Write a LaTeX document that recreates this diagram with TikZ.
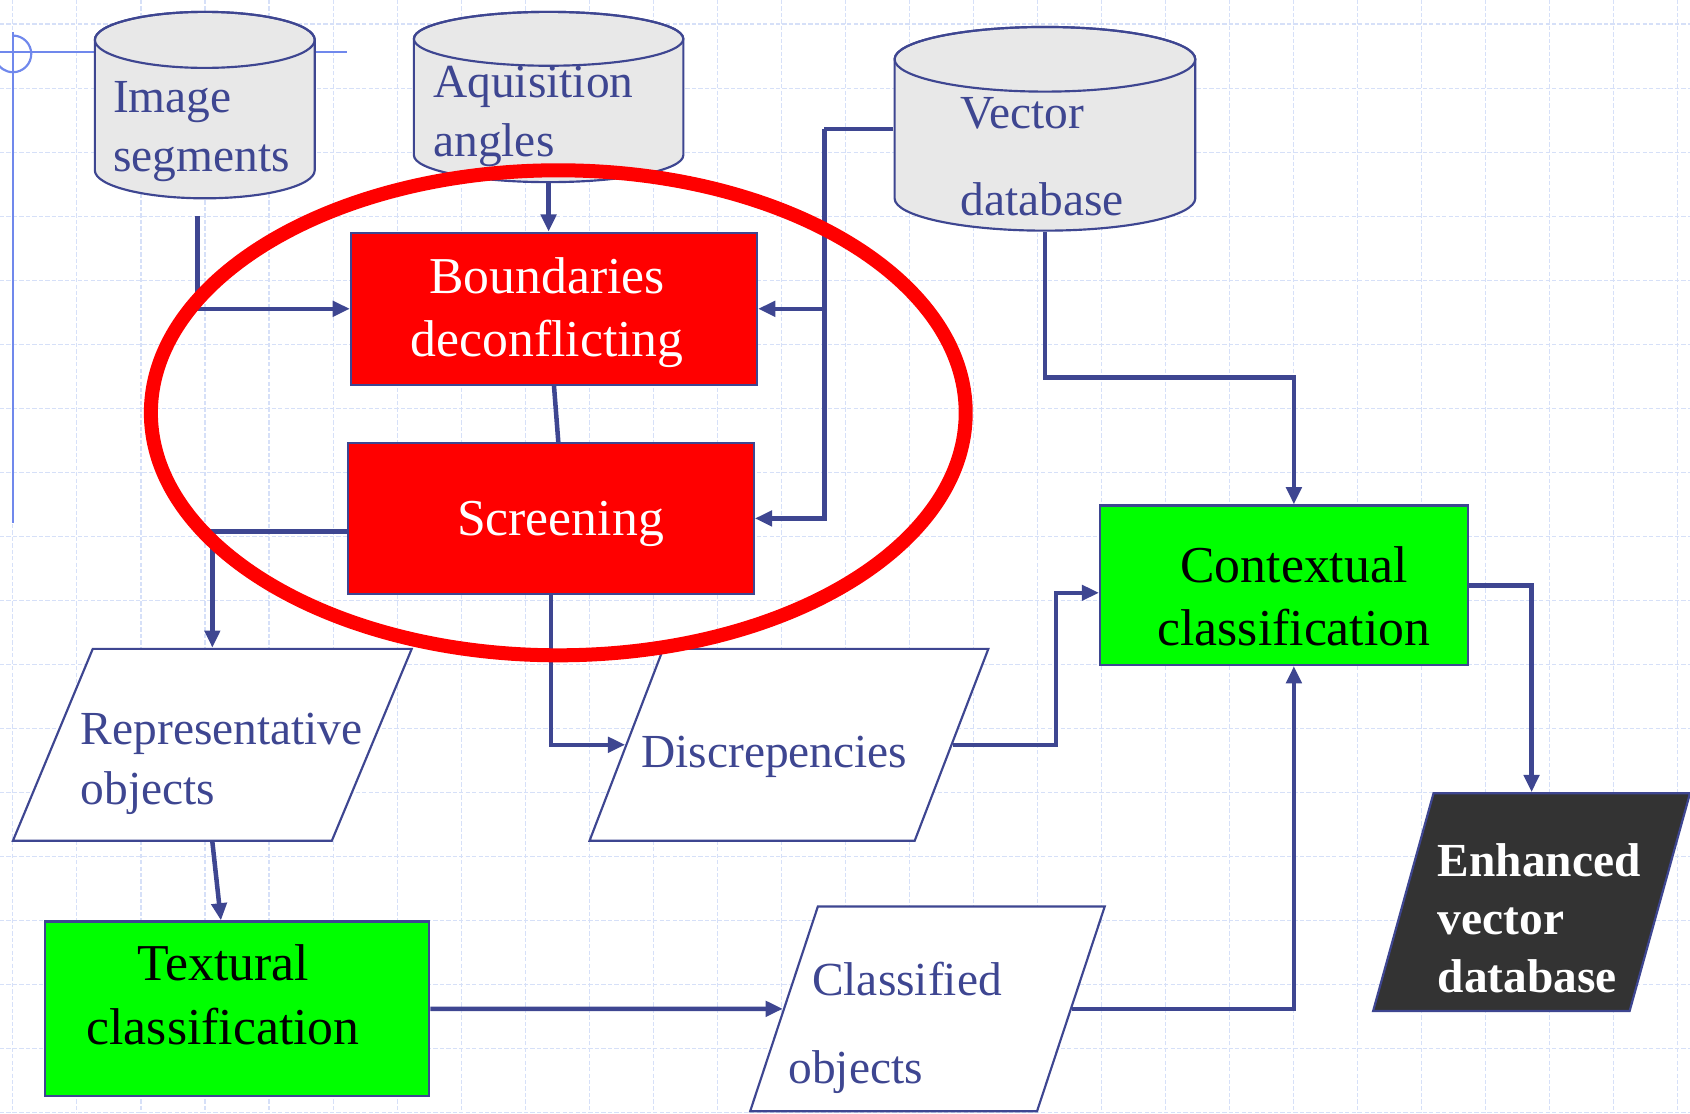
\documentclass[tikz,border=0pt]{standalone}
\usepackage{fontspec}
\setmainfont{Liberation Serif}
\usetikzlibrary{positioning}
\usetikzlibrary{shapes.geometric}
\usetikzlibrary{arrows.meta}

\definecolor{flowblue}{RGB}{62,70,145}
\definecolor{gridblue}{RGB}{214,224,248}
\definecolor{slideblue}{RGB}{112,136,236}
\definecolor{dbgray}{RGB}{232,232,232}
\definecolor{darkbox}{RGB}{51,51,51}

% cylinder outline inside a node: #1 = x radius, #2 = y radius of the ends
\newcommand{\dbcyl}[2]{%
  \filldraw[fill=dbgray, draw=flowblue, line width=2pt]
    ([xshift=1pt, yshift=-#2-1pt]path picture bounding box.north west)
    -- ([xshift=1pt, yshift=#2+1pt]path picture bounding box.south west)
    arc[start angle=180, end angle=360, x radius=#1, y radius=#2]
    -- ([xshift=-1pt, yshift=-#2-1pt]path picture bounding box.north east)
    arc[start angle=0, end angle=180, x radius=#1, y radius=#2] -- cycle;
  \draw[flowblue, line width=2pt] ([yshift=-#2-1pt]path picture bounding box.north) ellipse[x radius=#1, y radius=#2];
}

\begin{document}
\begin{tikzpicture}[
                x=1pt, y=-1pt,
                gridline/.style={draw=gridblue, line width=1pt, dash pattern=on 4pt off 2pt},
                wire/.style={draw=flowblue, line width=4.2pt},
                link/.style={wire, -{Triangle[length=16pt,width=14pt]}},
                database/.style 2 args={rectangle, path picture={\dbcyl{#1}{#2}}, text=flowblue, align=left, inner ysep=0pt, font=\fontsize{44}{55}\selectfont},
                redbox/.style={rectangle, draw=flowblue, line width=2pt, fill=red, text=white, align=center, inner ysep=0pt, font=\fontsize{48}{59}\selectfont},
                greenbox/.style={rectangle, draw=flowblue, line width=2pt, fill=green, text=black, align=center, inner ysep=0pt, font=\fontsize{48}{59}\selectfont},
                databox/.style={trapezium, trapezium stretches body=true, draw=flowblue, line width=2pt, fill=white, text=flowblue, align=left, inner xsep=-40pt, inner ysep=0pt, font=\fontsize{44}{55}\selectfont},
            ]
            \useasboundingbox (0,0) rectangle (1568,1033);

            % Background
            \foreach \gx in {0,...,26}
                \draw[gridline] ({12+59.4*\gx},0) -- ({12+59.4*\gx},1033);
            \foreach \gy in {0,...,17}
                \draw[gridline] (0,{22.3+59.4*\gy}) -- (1568,{22.3+59.4*\gy});
            \draw[slideblue, line width=2pt] (12,30) -- (12,485);
            \draw[slideblue, line width=2pt] (0,48) -- (322,48);
            \draw[slideblue, line width=2pt] (12,33) arc[start angle=90, end angle=-160, radius=17pt];

            % Nodes
            \node[database={102pt}{26pt}, minimum width=206pt, minimum height=175pt, text width=170pt, text height=94pt, text depth=81pt]    (imgseg) at (190,97.5)   {Image\\segments};
            \node[database={125pt}{25pt}, minimum width=252pt, minimum height=160pt, text width=214pt, text height=80pt, text depth=80pt]    (aqang)  at (509,90)     {Aquisition\\angles};
            \node[database={139.5pt}{30pt}, minimum width=281pt, minimum height=191pt, text width=157pt, text height=95pt, text depth=96pt]  (vecdb)  at (969.5,119.5) {Vector\\[26pt]database};

            \node[redbox, minimum width=376pt, minimum height=141pt, text width=370pt, text height=56pt, text depth=85pt]  (bound)  at (514,286.5) {\hspace*{-13pt}Boundaries\\\hspace*{-13pt}deconflicting};
            \node[redbox, minimum width=376pt, minimum height=140pt, text width=370pt, text height=86pt, text depth=54pt]  (screen) [below=52pt of bound, xshift=-3pt] {\hspace*{18pt}Screening};

            \node[greenbox, minimum width=341pt, minimum height=148pt, text width=335pt, text height=71pt, text depth=77pt]   (context)  at (1191.5,543) {\hspace*{18pt}Contextual\\\hspace*{18pt}classification};
            \node[greenbox, minimum width=356pt, minimum height=162pt, text width=350pt, text height=55pt, text depth=107pt]  (textural) at (220,936)    {\hspace*{-26pt}Textural\\\hspace*{-26pt}classification};

            \node[databox, trapezium left angle=67.4, trapezium right angle=112.6, minimum width=370pt, text width=244pt, text height=89pt, text depth=89pt]  (repr)       at (197,691)  {Representative\\objects};
            \node[databox, trapezium left angle=69, trapezium right angle=111, minimum width=370pt, text width=274pt, text height=110pt, text depth=68pt]       (disc)       at (732,691)  {Discrepencies};
            \node[databox, trapezium left angle=71.7, trapezium right angle=108.3, minimum width=329pt, text width=258pt, text height=83pt, text depth=107pt]  (classified) at (860.5,936) {\hspace*{22pt}Classified\\[26pt]objects};
            \node[databox, fill=darkbox, text=white, font=\fontsize{44}{54}\selectfont\bfseries, trapezium left angle=74.5, trapezium right angle=105.5, minimum width=294pt, text width=174pt, text height=77pt, text depth=125pt] (enhanced) at (1421,837) {Enhanced\\vector\\database};

            \coordinate (vtrunk) at ([xshift=-64pt]vecdb.west);

            %Lines
            \draw[link] ([xshift=-7pt,yshift=-15pt]imgseg.south) |- (bound.west);
            \draw[link] (aqang.south) -- (aqang.south |- bound.north);
            \draw[wire] (vecdb.west) -- (vtrunk);
            \draw[link] (vtrunk) |- (screen.east);
            \draw[link] (vtrunk |- bound.east) -- (bound.east);
            \draw[wire] (bound.south) -- ([xshift=7pt]screen.north);
            \draw[link] (vecdb.south) -- ++(0,135) -| ([xshift=9pt]context.north);

            \draw[link] ([yshift=-12pt]screen.west) -| (repr.north);
            \draw[link] (screen.south) |- (disc.west);
            \draw[link] (disc.east) -- ++(96,0) |- ([yshift=-7pt]context.west);

            \draw[link] (repr.south) -- ([xshift=-15pt]textural.north);
            \draw[link] (textural.east) -- (classified.west);
            \draw[link] (classified.east) -| ([xshift=9pt]context.south);
            \draw[link] (context.east) -| (enhanced.north);

            % Highlight
            \draw[red, line width=13pt] (518,383) ellipse[x radius=378pt, y radius=225pt];
        \end{tikzpicture}
\end{document}
